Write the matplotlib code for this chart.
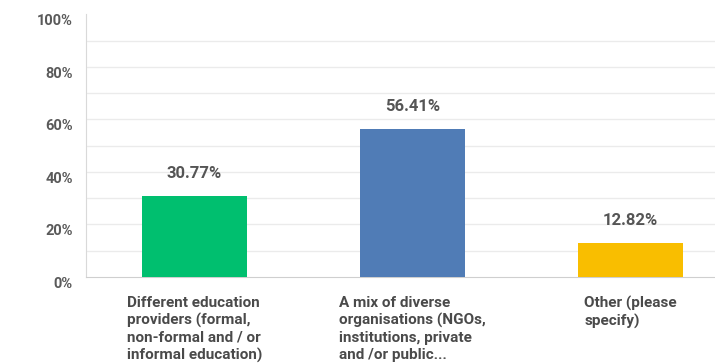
import numpy as np
import matplotlib.pyplot as plt

plt.rcParams['font.family'] = ['Roboto', 'DejaVu Sans']

categories = ['Different education\nproviders (formal,\nnon-formal and / or\ninformal education)',
              'A mix of diverse\norganisations (NGOs,\ninstitutions, private\nand /or public...',
              'Other (please\nspecify)']
values = [30.77, 56.41, 12.82]
colors = ['#00bf6f', '#507cb6', '#f9be00']
yticks = [0, 20, 40, 60, 80, 100]

fig = plt.figure(figsize=(7.15, 3.64), dpi=100)
ax = fig.add_axes([86/715, 87/364, 629/715, 262.6/364])

x = np.arange(len(values))
ax.bar(x, values, width=0.482, color=colors, zorder=3)

# grid every 10%
for g in range(10, 100, 10):
    ax.axhline(g, color='#ebebeb', lw=1, zorder=1)

ax.set_xlim(-0.4977, 2.3876)
ax.set_ylim(0, 100)

for s in ['top', 'right']:
    ax.spines[s].set_visible(False)
ax.spines['left'].set_color('#d9d9d9')
ax.spines['bottom'].set_color('#cfcfcf')

ax.set_xticks([])
ax.set_yticks(yticks)
ax.set_yticklabels([f'{t}%' for t in yticks], fontsize=10.5, fontweight='bold',
                   color='#5a5a5a', va='top')
ax.tick_params(axis='y', length=0, pad=9.5)

for xi, v in zip(x, values):
    ax.annotate(f'{v:.2f}%', (xi, v), xytext=(0, 11), textcoords='offset points',
                ha='center', va='bottom', fontsize=12, fontweight='bold', color='#555555')

for xi, lab in zip(x, categories):
    ax.text(xi, -19/262.6, lab, transform=ax.get_xaxis_transform(),
            ha='center', va='top', multialignment='left', linespacing=1.26,
            fontsize=11, fontweight='bold', color='#4a4a4a')

fig.savefig('out.png', dpi=100)
